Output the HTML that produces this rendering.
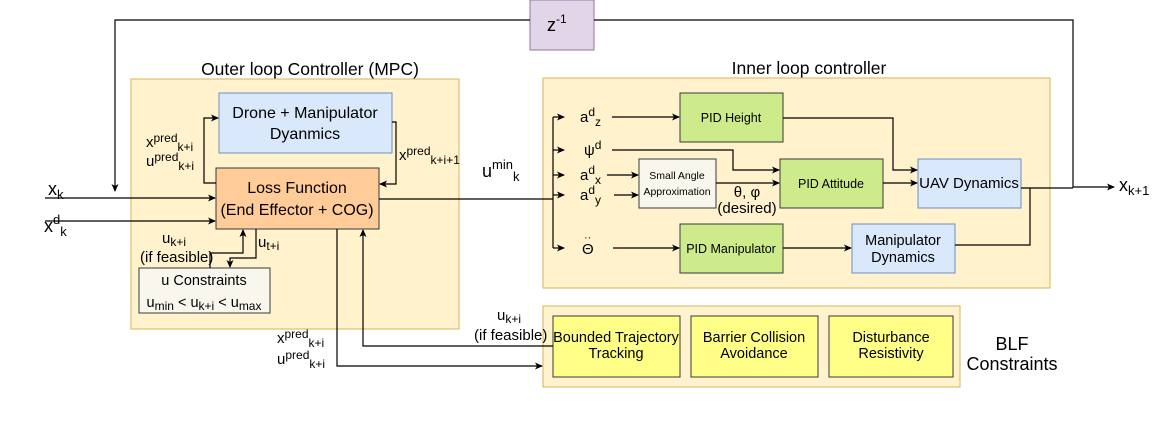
<!DOCTYPE html>
<html><head><meta charset="utf-8"><style>
body{margin:0;background:#fff}
svg{display:block;font-family:"Liberation Sans",sans-serif}
</style></head><body>
<svg width="1167" height="438" viewBox="0 0 1167 438" xmlns="http://www.w3.org/2000/svg">
<defs><marker id="a" markerWidth="8" markerHeight="8" refX="7" refY="4" orient="auto" markerUnits="userSpaceOnUse"><path d="M0,0.5 L8,4 L0,7.5 L2,4 z" fill="#000"/></marker></defs>
<g stroke="#d6b656" fill="#fff2cc">
<rect x="131" y="79" width="328" height="250"/>
<rect x="543" y="78" width="507" height="210"/>
<rect x="543" y="306" width="417" height="81"/>
</g>
<rect x="530" y="0" width="64" height="50" fill="#e1d5e7" stroke="#9673a6"/>
<g stroke="#6c8ebf" fill="#dae8fc">
<rect x="219" y="93" width="173" height="60"/>
<rect x="918" y="159" width="103" height="49"/>
<rect x="852" y="224" width="103" height="49"/>
</g>
<rect x="216" y="168" width="163" height="61" fill="#ffcc99" stroke="#36393d"/>
<rect x="139" y="268" width="131" height="45" fill="#f9f7ed" stroke="#36393d"/>
<rect x="639" y="159" width="77" height="49" fill="#f9f7ed" stroke="#36393d"/>
<g fill="#cdeb8b" stroke="#36393d">
<rect x="680" y="93" width="103" height="49"/>
<rect x="780" y="159" width="103" height="49"/>
<rect x="680" y="224" width="103" height="49"/>
</g>
<g fill="#ffff88" stroke="#36393d">
<rect x="553" y="316" width="127" height="61"/>
<rect x="691" y="316" width="127" height="61"/>
<rect x="829" y="316" width="124" height="61"/>
</g>
<g stroke="#000" fill="none" stroke-width="1.2">
<path d="M530,20 H115 V191" marker-end="url(#a)"/>
<path d="M594,20 H1073 V187 H1114" marker-end="url(#a)"/>
<path d="M45,198 H215" marker-end="url(#a)"/>
<path d="M45,221 H215" marker-end="url(#a)"/>
<path d="M216,183 H204 V118 H218" marker-end="url(#a)"/>
<path d="M392,122 H396 V184 H380" marker-end="url(#a)"/>
<path d="M379,199 H553"/>
<path d="M553,117 V248"/>
<path d="M553,117 H564" marker-end="url(#a)"/>
<path d="M553,150 H564" marker-end="url(#a)"/>
<path d="M553,175 H564" marker-end="url(#a)"/>
<path d="M553,195 H564" marker-end="url(#a)"/>
<path d="M553,248 H564" marker-end="url(#a)"/>
<path d="M612,117 H679" marker-end="url(#a)"/>
<path d="M612,150 H733 V170 H779" marker-end="url(#a)"/>
<path d="M607,175 H638" marker-end="url(#a)"/>
<path d="M614,195 H638" marker-end="url(#a)"/>
<path d="M716,183 H779" marker-end="url(#a)"/>
<path d="M783,118 H893 V170 H917" marker-end="url(#a)"/>
<path d="M883,183 H917" marker-end="url(#a)"/>
<path d="M1021,188 H1073"/>
<path d="M1030,188 V245 H955"/>
<path d="M613,248 H679" marker-end="url(#a)"/>
<path d="M783,248 H851" marker-end="url(#a)"/>
<path d="M210,268 V253 H243 V230" marker-end="url(#a)"/>
<path d="M256,229 V258 H230 V267" marker-end="url(#a)"/>
<path d="M337,229 V366 H542" marker-end="url(#a)"/>
<path d="M553,346 H363 V230" marker-end="url(#a)"/>
</g>
<g font-size="16" text-anchor="middle" fill="#000">
<text x="310" y="75" font-size="17.5">Outer loop Controller (MPC)</text>
<text x="809" y="74" font-size="17.5">Inner loop controller</text>
<text x="305" y="118">Drone + Manipulator</text>
<text x="305" y="139">Dyanmics</text>
<text x="297" y="193">Loss Function</text>
<text x="297" y="215">(End Effector + COG)</text>
<text x="204" y="285" font-size="14.5">u Constraints</text>
<text x="204" y="307" font-size="14.5">u<tspan font-size="12" dy="3">min</tspan><tspan dy="-3"> &lt; u</tspan><tspan font-size="12" dy="3">k+i</tspan><tspan dy="-3"> &lt; u</tspan><tspan font-size="12" dy="3">max</tspan></text>
<text x="969" y="188" font-size="15">UAV Dynamics</text>
<text x="903" y="245" font-size="14.5">Manipulator</text>
<text x="903" y="262" font-size="14.5">Dynamics</text>
<text x="616" y="342" font-size="14.5">Bounded Trajectory</text>
<text x="616" y="358" font-size="14.5">Tracking</text>
<text x="754" y="342" font-size="14.5">Barrier Collision</text>
<text x="754" y="358" font-size="14.5">Avoidance</text>
<text x="891" y="342" font-size="14.5">Disturbance</text>
<text x="891" y="358" font-size="14.5">Resistivity</text>
<g font-size="12.5"><text x="731" y="122">PID Height</text><text x="831" y="188">PID Attitude</text><text x="731" y="253">PID Manipulator</text></g>
<g font-size="10.5"><text x="677" y="179">Small Angle</text><text x="677" y="195">Approximation</text></g>
<text x="747" y="197" font-size="15">θ, φ</text>
<text x="747" y="213" font-size="15">(desired)</text>
<text x="1012" y="350" font-size="18">BLF</text>
<text x="1012" y="370" font-size="18">Constraints</text>
</g>
<g font-size="15" fill="#000">
<text x="547" y="31" font-size="18">z<tspan font-size="12" dy="-8">-1</tspan></text>
<text x="48" y="195" font-size="18">x<tspan font-size="13" dy="4">k</tspan></text>
<text x="44" y="232" font-size="18">x<tspan font-size="13" dy="-8">d</tspan><tspan font-size="13" dy="12">k</tspan></text>
<text x="1119" y="191" font-size="18">x<tspan font-size="13" dy="4">k+1</tspan></text>
<text x="482" y="177" font-size="18">u<tspan font-size="13" dy="-8">min</tspan><tspan font-size="13" dy="12">k</tspan></text>
<text x="146" y="147">x<tspan font-size="12" dy="-5">pred</tspan><tspan font-size="12" dy="9">k+i</tspan></text>
<text x="146" y="166">u<tspan font-size="12" dy="-5">pred</tspan><tspan font-size="12" dy="9">k+i</tspan></text>
<text x="399" y="160">x<tspan font-size="12" dy="-5">pred</tspan><tspan font-size="12" dy="9">k+i+1</tspan></text>
<text x="162" y="243">u<tspan font-size="12" dy="3">k+i</tspan></text>
<text x="140" y="262">(if feasible)</text>
<text x="258" y="247">u<tspan font-size="12" dy="3">t+i</tspan></text>
<text x="497" y="320">u<tspan font-size="12" dy="3">k+i</tspan></text>
<text x="474" y="340">(if feasible)</text>
<text x="277" y="343">x<tspan font-size="12" dy="-5">pred</tspan><tspan font-size="12" dy="9">k+i</tspan></text>
<text x="277" y="364">u<tspan font-size="12" dy="-5">pred</tspan><tspan font-size="12" dy="9">k+i</tspan></text>
<text x="580" y="122">a<tspan font-size="12" dy="-6">d</tspan><tspan font-size="12" dy="10">z</tspan></text>
<text x="584" y="155">ψ<tspan font-size="12" dy="-6">d</tspan></text>
<text x="580" y="180">a<tspan font-size="12" dy="-6">d</tspan><tspan font-size="12" dy="10">x</tspan></text>
<text x="580" y="200">a<tspan font-size="12" dy="-6">d</tspan><tspan font-size="12" dy="10">y</tspan></text>
<text x="582" y="254">Θ</text>
<text x="584" y="241" font-size="11">··</text>
</g>
</svg>
</body></html>
